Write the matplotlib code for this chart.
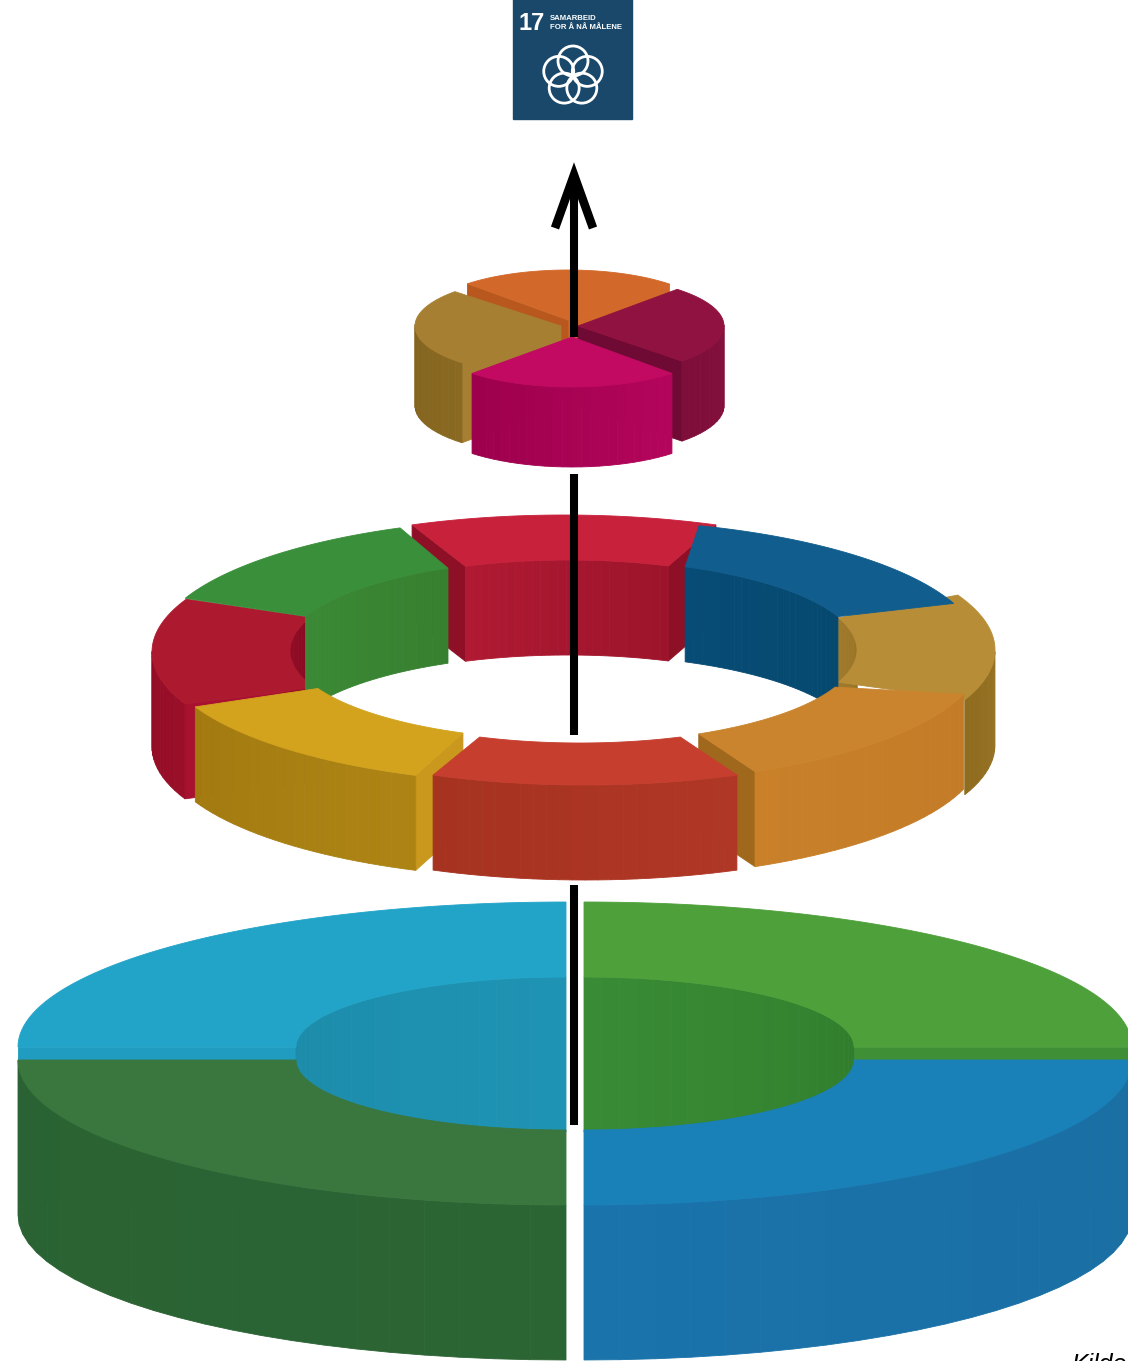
import numpy as np
import matplotlib
matplotlib.use("Agg")
import matplotlib.pyplot as plt
from matplotlib.colors import to_rgb
from matplotlib.patches import Circle, Rectangle

# %% Data : one row per piece, back pieces first
# bottom tier (biosphere)
bio_outer = [(90, 180), (0, 90), (180, 270), (270, 360)]
bio_inner = [(90, 180), (0, 90), (180, 270), (270, 360)]
bio_shift = [(-9, -6), (9, -6), (-9, 7), (9, 7)]
bio_shift_in = [(-9, -6), (9, -6), (-9, 7), (9, 7)]
bio_top = ["#22a4c8", "#4da03a", "#3a773e", "#1a80b8"]
bio_wall = [("#1f93b4", "#1c8ba9"), ("#2f7d2c", "#3a8b35"), ("#2a6233", "#2c6534"), ("#1a73ab", "#1a6ea2")]
bio_end = [(None, "#1f9cc0"), ("#3f8f36", None), (None, None), (None, None)]

# middle tier (society)
soc_outer = [(67.5, 112.5), (156, 203.5), (-22.5, 25), (112.5, 157.5), (21, 73), (204, 249), (-64.8, -18), (247.5, 292.5)]
soc_inner = [(69, 111.5), (158, 204), (-21, 21), (114.7, 158), (21.8, 67.5), (205.3, 247.3), (-64, -22.3), (249, 291)]
soc_shift = [(-9, -5), (-24, 2), (25, 0), (-21, -2), (10, 0), (-15, 4), (13, 4), (12, 5)]
soc_shift_in = [(-5, 0), (-3, 1), (4, 0), (-8, 0), (5, 0), (-2, 0), (3, 3), (7, 3)]
soc_top = ["#c8213c", "#ad1a30", "#b78d38", "#3a8f3a", "#115d8e", "#d3a31e", "#cb842e", "#c63e2e"]
soc_wall = [("#9c142b", "#b01a32"), ("#8a0a22", "#9a0e28"), ("#8f6c1e", "#a07a2c"), ("#37802f", "#3b8a36"),
            ("#06496f", "#074c76"), ("#a37a10", "#ad8414"), ("#c98029", "#c47b28"), ("#a63220", "#b03725")]
soc_end = [("#8e1026", "#8e1026"), (None, "#a81230"), (None, None), (None, None), (None, None),
           (None, "#c9981c"), ("#a0681c", None), (None, None)]

# top tier (economy)
eco_outer = [(46, 133.5), (-44.6, 47.2), (136.6, 227.3), (226.8, 313.2)]
eco_shift = [(-4, -15), (6, -9), (-11, -9), (0, 2)]
eco_top = ["#d2692a", "#8f1240", "#a67f33", "#c20a62"]
eco_wall = [("#d2692a", "#d2692a"), ("#7e0e3a", "#8a1040"), ("#7d5e1e", "#8a6a22"), ("#9c004c", "#b5055c")]
eco_end = [("#d2692a", "#b8581f"), ("#6e0a34", None), (None, "#a67f33"), (None, None)]

goal_number = "17"
goal_text = "SAMARBEID\nFOR Å NÅ MÅLENE"
goal_color = "#19486a"
source_text = "Kilde"

fig = plt.figure(figsize=(11.28, 13.61), dpi=100)
ax = fig.add_axes([0, 0, 1, 1])
ax.set_xlim(0, 1128)
ax.set_ylim(1361, 0)
ax.axis("off")


def arc(cx, cy, rx, ry, t):
    a = np.radians(t)
    return cx + rx * np.cos(a), cy - ry * np.sin(a)


def fill(x, y, color):
    ax.fill(x, y, color=color, lw=0.6, zorder=2)


def wall(cx, cy, rx, ry, h, t0, t1, colors, front):
    # vertical strips, only where the wall faces the viewer
    n = 24
    ts = np.linspace(t0, t1, n + 1)
    a, b = np.array(to_rgb(colors[0])), np.array(to_rgb(colors[1]))
    for i in range(n):
        mid = (ts[i] + ts[i + 1]) / 2
        s = np.sin(np.radians(mid))
        if (front and s >= 0) or (not front and s <= 0):
            continue
        x, y = arc(cx, cy, rx, ry, ts[i:i + 2])
        c = a + (b - a) * (i + 0.5) / n
        fill([x[0], x[1], x[1], x[0]], [y[0], y[1], y[1] + h, y[0] + h], tuple(c))


def piece(center, radii, h, outer, inner, shift, shift_in, top, wall_cols, ends):
    cx, cy = center
    rx, ry, rx_in, ry_in = radii
    ox, oy = cx + shift[0], cy + shift[1]
    ix, iy = cx + shift_in[0], cy + shift_in[1]
    # end faces
    for k in range(2):
        if ends[k] is None:
            continue
        x1, y1 = arc(ox, oy, rx, ry, outer[k])
        x2, y2 = arc(ix, iy, rx_in, ry_in, inner[k])
        fill([x1, x2, x2, x1], [y1, y2, y2 + h, y1 + h], ends[k])
    # walls
    if rx_in > 0:
        wall(ix, iy, rx_in, ry_in, h, inner[0], inner[1], wall_cols, False)
    wall(ox, oy, rx, ry, h, outer[0], outer[1], wall_cols, True)
    # top surface
    xo, yo = arc(ox, oy, rx, ry, np.linspace(outer[0], outer[1], 80))
    xi, yi = arc(ix, iy, rx_in, ry_in, np.linspace(inner[1], inner[0], 80))
    fill(np.r_[xo, xi], np.r_[yo, yi], top)


# %% Bottom tier
for i in range(len(bio_outer)):
    piece((575, 1053), (548, 145, 270, 70), 155, bio_outer[i], bio_inner[i], bio_shift[i],
          bio_shift_in[i], bio_top[i], bio_wall[i], bio_end[i])

# %% Middle tier
for i in range(len(soc_outer)):
    piece((573, 650), (397, 130, 280, 90), 95, soc_outer[i], soc_inner[i], soc_shift[i],
          soc_shift_in[i], soc_top[i], soc_wall[i], soc_end[i])

# %% Top tier
for i in range(len(eco_outer)):
    piece((572, 335), (146, 50, 0, 0), 80, eco_outer[i], eco_outer[i], eco_shift[i],
          eco_shift[i], eco_top[i], eco_wall[i], eco_end[i])

# %% Arrow, in three pieces
black = dict(color="black", lw=5.8, solid_capstyle="butt", zorder=5)
ax.plot([574, 574], [885, 1125], **black)
ax.plot([574, 574], [474, 735], **black)
ax.plot([574, 574], [337, 175], **black)
ax.plot([555, 574, 593], [228, 175, 228], color="black", lw=6.2, solid_joinstyle="miter",
        solid_capstyle="butt", zorder=5)

# %% Goal icon
ax.add_patch(Rectangle((513, -5), 119, 124, color=goal_color, zorder=3))
ax.text(532, 23, goal_number, color="white", fontsize=17, fontweight="bold", family="Liberation Sans",
        ha="center", va="center", zorder=4)
ax.text(550, 23, goal_text, color="white", fontsize=5.6, fontweight="bold", family="Liberation Sans",
        ha="left", va="center", zorder=4, linespacing=1.35)
for angle in [90, 162, 234, 306, 18]:
    px, py = arc(573, 76, 15, 15, angle)
    ax.add_patch(Circle((px, py), 15, fill=False, ec="white", lw=2, zorder=4))

ax.text(1071, 1372, source_text, fontsize=18, style="italic", family="Liberation Sans",
        ha="left", va="baseline", color="black", zorder=6)

fig.savefig("out.png", dpi=100)
